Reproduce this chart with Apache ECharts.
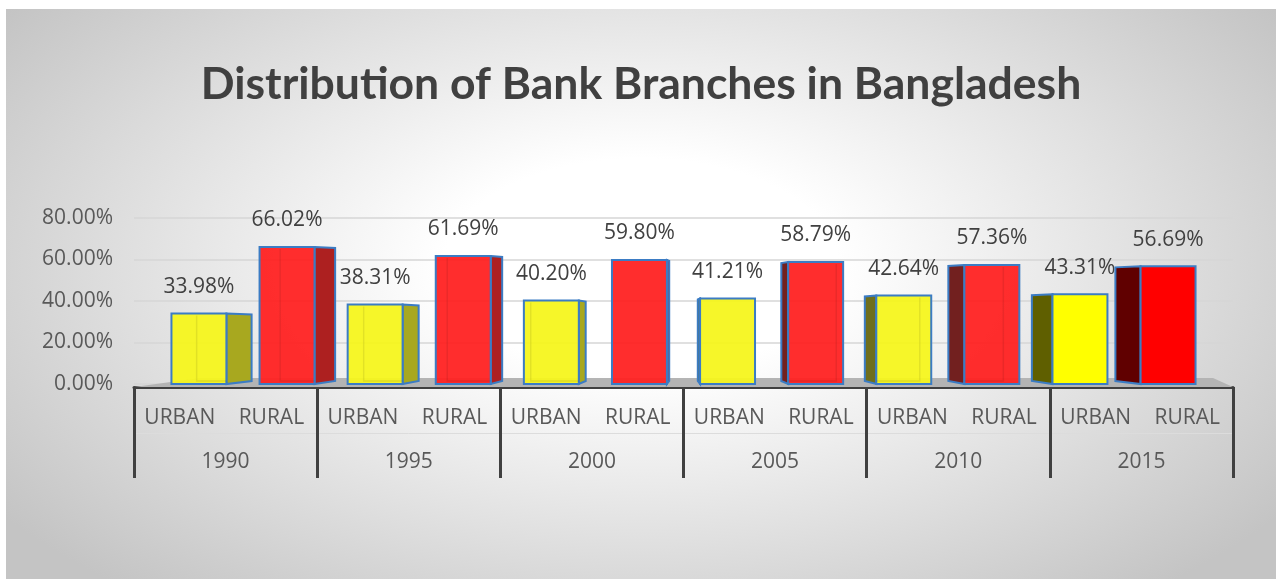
<!DOCTYPE html>
<html>
<head>
<meta charset="utf-8">
<script src="https://cdn.jsdelivr.net/npm/echarts@6/dist/echarts.min.js"></script>
<style>
  html, body { margin: 0; padding: 0; background: #ffffff; }
  #chart {
    position: absolute; left: 6px; top: 9px; width: 1270px; height: 570px;
    background: radial-gradient(ellipse 62% 75% at 50% 45%, #ffffff 0%, #ffffff 25%, #c4c4c4 100%);
  }
</style>
</head>
<body>
<div id="chart"></div>
<script>
const years = ['1990', '1995', '2000', '2005', '2010', '2015'];
const kinds = ['URBAN', 'RURAL'];
const urban = [33.98, 38.31, 40.20, 41.21, 42.64, 43.31];
const rural = [66.02, 61.69, 59.80, 58.79, 57.36, 56.69];
const yTicks = [0, 20, 40, 60, 80];

// 12 categories: URBAN, RURAL for every year
const categories = [];
const barData = [];
years.forEach((y, i) => {
    categories.push(kinds[0], kinds[1]);
    barData.push([i * 2, urban[i], i, 0]);
    barData.push([i * 2 + 1, rural[i], i, 1]);
});

const chart = echarts.init(document.getElementById('chart'));

function renderBar(params, api) {
    const ci = api.value(0);
    const v = api.value(1);
    const yi = api.value(2);
    const kind = api.value(3);
    const base = api.coord([ci, 0]);
    const top = api.coord([ci, v]);
    const bw = api.size([1, 0])[0];
    const cs = params.coordSys;
    const vx = cs.x + cs.width / 2;
    // fake perspective: shift towards the centre, show side face facing the centre
    const cx = base[0] + (vx - base[0]) * 0.038;
    const fw = bw * 0.6;
    const left = cx - fw / 2;
    const right = cx + fw / 2;
    const depth = (vx - cx) * 0.052;
    const last = yi === years.length - 1;

    let front, side;
    if (kind === 0) {
        front = last ? '#ffff00' : 'rgba(246,246,30,0.95)';
        side = last ? '#5f5f00' : (depth > 0 ? '#a8a81f' : '#6e6e1c');
    } else {
        front = last ? '#ff0000' : 'rgba(255,34,34,0.95)';
        side = last ? '#600000' : (depth > 0 ? '#ad2020' : '#72201f');
    }
    const edge = '#3b7cc4';
    const sx = depth > 0 ? right : left;
    const children = [];
    if (Math.abs(depth) > 1) {
        children.push({
            type: 'polygon',
            shape: { points: [[sx, top[1]], [sx + depth, top[1] + 1], [sx + depth, base[1] - 3], [sx, base[1]]] },
            style: { fill: side, stroke: edge, lineWidth: 2 }
        });
    }
    children.push({
        type: 'rect',
        shape: { x: left, y: top[1], width: fw, height: base[1] - top[1] },
        style: { fill: front, stroke: edge, lineWidth: 2 }
    });
    if (!last && Math.abs(depth) > 3) {
        const hx = depth > 0 ? left + depth : right + depth;
        children.push({
            type: 'polyline',
            shape: { points: [[hx, top[1] + 2], [hx, base[1] - 3], [depth > 0 ? right : left, base[1] - 3]] },
            style: { stroke: 'rgba(0,0,0,0.08)', lineWidth: 1.5, fill: null }
        });
    }
    children.push({
        type: 'text',
        style: {
            text: v.toFixed(2) + '%',
            x: cx, y: top[1] - 16,
            align: 'center', verticalAlign: 'bottom',
            font: '21px "Open Sans"', fill: '#404040'
        }
    });
    return { type: 'group', children };
}

function renderFloor(params) {
    const cs = params.coordSys;
    const yb = cs.y + cs.height;
    return {
        type: 'polygon',
        shape: { points: [[cs.x, yb + 3], [cs.x + cs.width, yb + 3], [cs.x + cs.width - 20, yb - 6], [cs.x + 66, yb - 6]] },
        style: { fill: '#b4b4b4' },
        z2: -1
    };
}

const option = {
    backgroundColor: 'transparent',
    animation: false,
    title: {
        text: 'Distribution of Bank Branches in Bangladesh',
        left: 'center',
        top: 48,
        textStyle: {
            fontFamily: 'Lato',
            fontWeight: 'bold',
            fontSize: 44.5,
            lineHeight: 44.5,
            color: '#404040'
        }
    },
    grid: {
        left: 128,
        right: 43,
        top: 209,
        bottom: 195
    },
    xAxis: [
        {
            type: 'category',
            data: categories,
            position: 'bottom',
            axisLine: { show: false },
            axisTick: { show: false },
            axisLabel: { margin: 24, fontFamily: 'Open Sans', fontSize: 21, color: '#595959', interval: 0 }
        },
        {
            type: 'category',
            data: years,
            position: 'bottom',
            offset: 3,
            axisLine: { lineStyle: { color: '#404040', width: 3 } },
            axisTick: { show: true, length: 91, lineStyle: { color: '#404040', width: 3 } },
            axisLabel: { margin: 65, fontFamily: 'Open Sans', fontSize: 21, color: '#595959' }
        },
        {
            type: 'category',
            data: years,
            position: 'bottom',
            offset: 49,
            axisLine: { lineStyle: { color: '#dcdcdc', width: 1 } },
            axisTick: { show: false },
            axisLabel: { show: false }
        }
    ],
    yAxis: {
        type: 'value',
        min: yTicks[0],
        max: yTicks[yTicks.length - 1],
        interval: 20,
        axisLine: { show: false },
        axisTick: { show: false },
        axisLabel: {
            margin: 21,
            fontFamily: 'Open Sans', fontSize: 21, color: '#595959',
            formatter: v => v.toFixed(2) + '%'
        },
        splitLine: { lineStyle: { color: '#d6d6d6', width: 1.5 } }
    },
    series: [
        {
            name: 'floor',
            type: 'custom',
            xAxisIndex: 0,
            renderItem: renderFloor,
            data: [[0, 0]],
            silent: true,
            z: 1
        },
        {
            name: 'branches',
            type: 'custom',
            xAxisIndex: 0,
            renderItem: renderBar,
            encode: { x: 0, y: 1 },
            data: barData,
            z: 2
        }
    ]
};

chart.setOption(option);
</script>
</body>
</html>
